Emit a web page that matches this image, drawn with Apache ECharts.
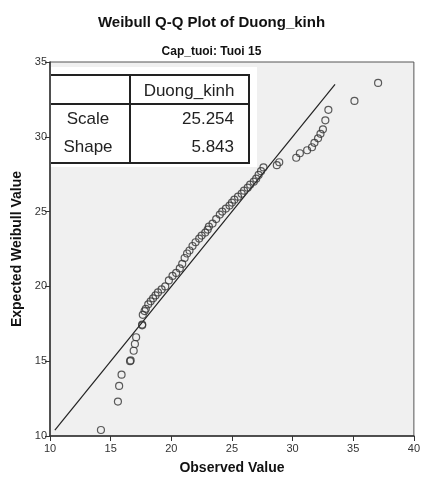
<!DOCTYPE html>
<html><head><meta charset="utf-8">
<script src="https://cdn.jsdelivr.net/npm/echarts@6/dist/echarts.min.js"></script>
<style>html,body{margin:0;padding:0;background:#fff}#c{width:423px;height:480px}</style>
</head><body><div id="c"></div>
<script>
var observed = [14.2,15.6,15.7,15.9,16.6,16.65,16.9,17.0,17.1,17.6,17.6,17.65,17.8,17.9,18.1,18.3,18.5,18.7,18.9,19.2,19.5,19.8,20.1,20.4,20.7,20.9,21.1,21.3,21.5,21.75,22.0,22.3,22.5,22.8,23.0,23.1,23.4,23.7,24.0,24.2,24.5,24.8,25.0,25.2,25.5,25.8,26.0,26.3,26.5,26.8,27.0,27.2,27.4,27.6,28.7,28.9,30.3,30.6,31.2,31.6,31.8,32.1,32.3,32.5,32.7,32.95,35.1,37.05];
var expected = [10.4,12.3,13.35,14.1,15.0,15.05,15.7,16.15,16.6,17.4,17.45,18.1,18.35,18.5,18.8,19.0,19.2,19.4,19.6,19.8,20.0,20.4,20.7,20.9,21.2,21.5,21.9,22.2,22.4,22.7,22.95,23.2,23.4,23.6,23.8,24.0,24.2,24.5,24.8,25.0,25.2,25.4,25.6,25.8,26.0,26.2,26.4,26.6,26.8,27.0,27.2,27.45,27.7,27.95,28.1,28.3,28.6,28.9,29.1,29.3,29.6,29.9,30.2,30.5,31.1,31.8,32.4,33.6];
var refLine = [[10.4,10.4],[33.5,33.5]];
var tableHeader = ["", "Duong_kinh"];
var paramNames = ["Scale", "Shape"];
var paramValues = ["25.254", "5.843"];
var xTicks = {min:10, max:40, interval:5};
var yTicks = {min:10, max:35, interval:5};

var pts = observed.map(function(v,i){return [v, expected[i]];});
var chart = echarts.init(document.getElementById('c'));
var F = 'Liberation Sans, Arial, sans-serif';
var gl = 50, gt = 62;
var tbl = [];
tbl.push({type:'rect', shape:{x:51, y:67, width:206, height:100}, style:{fill:'#fff'}, z:50});
var lineStyle = {stroke:'#222', lineWidth:2};
tbl.push({type:'line', shape:{x1:51,y1:75,x2:250,y2:75}, style:lineStyle, z:51});
tbl.push({type:'line', shape:{x1:51,y1:104,x2:250,y2:104}, style:lineStyle, z:51});
tbl.push({type:'line', shape:{x1:51,y1:163,x2:250,y2:163}, style:lineStyle, z:51});
tbl.push({type:'line', shape:{x1:130,y1:75,x2:130,y2:163}, style:lineStyle, z:51});
tbl.push({type:'line', shape:{x1:249,y1:75,x2:249,y2:163}, style:lineStyle, z:51});
tbl.push({type:'text', x:189, y:91, style:{text:tableHeader[1], font:'17px '+F, fill:'#222', align:'center', verticalAlign:'middle'}, z:52});
paramNames.forEach(function(n,i){
  tbl.push({type:'text', x:88, y:119+i*28, style:{text:n, font:'17px '+F, fill:'#222', align:'center', verticalAlign:'middle'}, z:52});
  tbl.push({type:'text', x:234, y:119+i*28, style:{text:paramValues[i], font:'17px '+F, fill:'#222', align:'right', verticalAlign:'middle'}, z:52});
});

chart.setOption({
  animation:false,
  backgroundColor:'#fff',
  title:[
    {text:'Weibull Q-Q Plot of Duong_kinh', left:'center', top:10, textStyle:{fontFamily:F, fontSize:15, fontWeight:'bold', color:'#111'}},
    {text:'Cap_tuoi: Tuoi 15', left:'center', top:41, textStyle:{fontFamily:F, fontSize:12, fontWeight:'bold', color:'#111'}}
  ],
  grid:{left:gl, top:gt, right:7, bottom:42, show:true, backgroundColor:'#f0f0f0', borderColor:'#555', borderWidth:1},
  xAxis:{type:'value', min:xTicks.min, max:xTicks.max, interval:xTicks.interval,
    name:'Observed Value', nameLocation:'middle', nameGap:25,
    nameTextStyle:{fontFamily:F, fontSize:14, fontWeight:'bold', color:'#111'},
    axisLine:{lineStyle:{color:'#333', width:1.5}}, axisTick:{length:5, lineStyle:{color:'#333'}},
    axisLabel:{fontFamily:F, fontSize:11, color:'#333', margin:7}, splitLine:{show:false}},
  yAxis:{type:'value', min:yTicks.min, max:yTicks.max, interval:yTicks.interval,
    name:'Expected Weibull Value', nameLocation:'middle', nameGap:26, nameRotate:90,
    nameTextStyle:{fontFamily:F, fontSize:14, fontWeight:'bold', color:'#111'},
    axisLine:{lineStyle:{color:'#333', width:1.5}}, axisTick:{length:5, lineStyle:{color:'#333'}},
    axisLabel:{fontFamily:F, fontSize:11, color:'#333', margin:3}, splitLine:{show:false}},
  series:[
    {type:'line', data:refLine, symbol:'none', lineStyle:{color:'#222', width:1.2}, z:3},
    {type:'scatter', data:pts, symbol:'circle', symbolSize:7,
      itemStyle:{color:'rgba(0,0,0,0)', borderColor:'#333', borderWidth:1.2}, z:4}
  ],
  graphic:tbl
});
</script></body></html>
